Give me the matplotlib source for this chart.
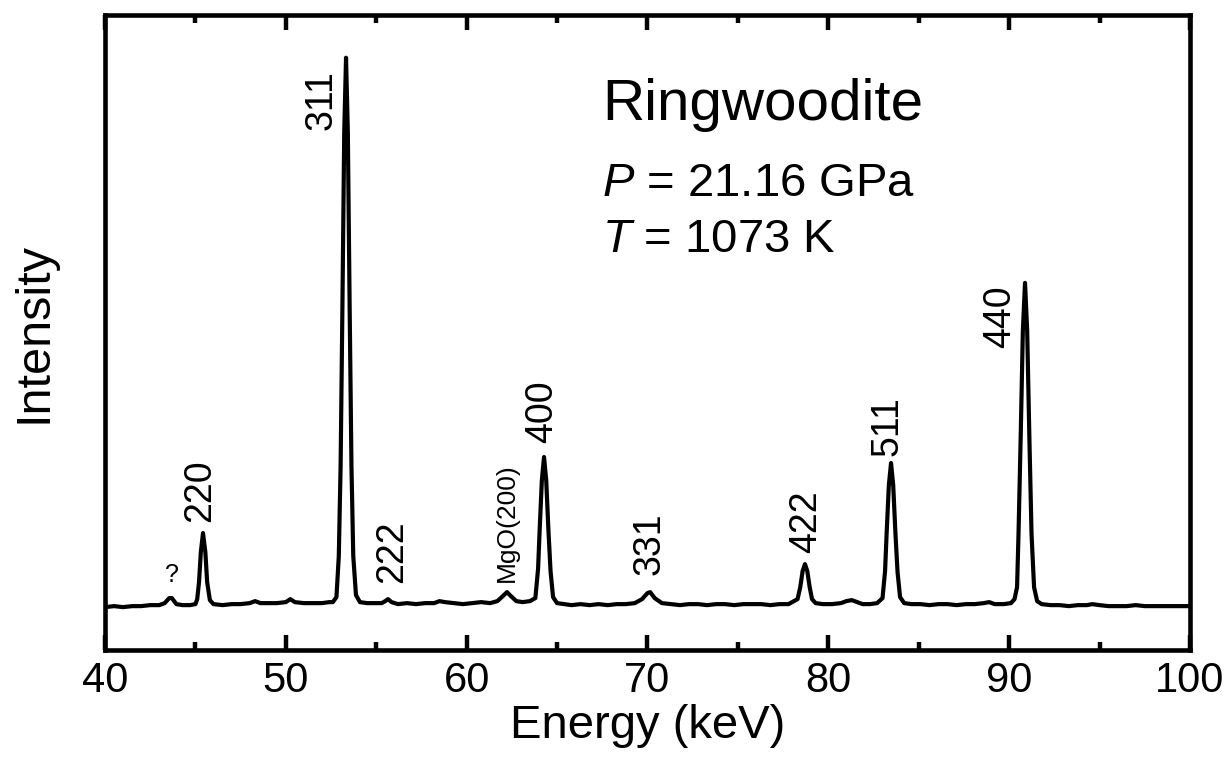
import matplotlib
matplotlib.use('Agg')
import matplotlib.pyplot as plt
from matplotlib.ticker import MultipleLocator

plt.rcParams['font.family'] = ['Liberation Sans', 'DejaVu Sans']
plt.rcParams['mathtext.fontset'] = 'custom'
plt.rcParams['mathtext.rm'] = 'Liberation Sans'
plt.rcParams['mathtext.it'] = 'Liberation Sans:italic'

# spectrum (energy in keV, intensity in arbitrary units)
energy = [40.0, 40.5, 41.0, 41.5, 42.0, 42.5, 43.0,
          43.3, 43.55, 43.7, 43.95, 44.3, 44.7, 45.0,
          45.1, 45.2, 45.3, 45.42, 45.55, 45.65, 45.8, 46.0,
          46.5, 47.0, 47.5, 48.0, 48.3, 48.6, 49.0, 49.5, 50.0, 50.25, 50.5,
          51.0, 51.5, 52.0, 52.4, 52.6, 52.8,
          52.93, 53.03, 53.13, 53.23, 53.33, 53.43, 53.53, 53.63, 53.73, 53.88, 54.1,
          54.5, 55.0, 55.3, 55.5, 55.65, 55.85, 56.2, 56.7, 57.2, 57.7, 58.2,
          58.5, 58.8, 59.3, 59.8, 60.3, 60.8, 61.3, 61.7, 62.0, 62.23, 62.45,
          62.75, 63.1, 63.5, 63.8,
          63.95, 64.04, 64.16, 64.28, 64.40, 64.52, 64.64, 64.78, 65.0, 65.4,
          65.8, 66.3, 66.8, 67.3, 67.8, 68.3, 68.8, 69.3, 69.7, 70.0, 70.15,
          70.4, 70.8, 71.3, 71.8, 72.3, 72.8, 73.3, 73.8, 74.3, 74.8, 75.3,
          75.8, 76.3, 76.8, 77.3, 77.8, 78.1,
          78.3, 78.45, 78.58, 78.71, 78.84, 78.97, 79.1, 79.3,
          79.7, 80.2, 80.7, 81.0, 81.3, 81.6, 81.9, 82.3, 82.7, 83.0,
          83.14, 83.23, 83.35, 83.47, 83.59, 83.71, 83.83, 83.97, 84.2,
          84.6, 85.1, 85.6, 86.1, 86.6, 87.1, 87.6, 88.1, 88.6, 88.9, 89.2,
          89.7, 90.1, 90.3,
          90.44, 90.52, 90.64, 90.76, 90.88, 91.0, 91.12, 91.24, 91.38, 91.55, 91.8,
          92.3, 92.8, 93.3, 93.8, 94.3, 94.6, 95.0, 95.5, 96.0, 96.5, 97.0,
          97.5, 98.0, 98.5, 99.0, 99.5, 100.0]
intensity = [0, 1, 0, 1, 1, 2, 2,
             4, 9, 9, 3, 2, 2, 3,
             8, 25, 55, 74, 55, 25, 7, 3,
             2, 3, 3, 4, 6, 4, 4, 4, 5, 8, 5,
             4, 4, 4, 5, 5, 10,
             51, 141, 300, 474, 549, 474, 300, 141, 51, 12, 5,
             4, 4, 4, 6, 8, 5, 3, 4, 3, 4, 4,
             6, 5, 4, 3, 4, 5, 4, 6, 11, 15, 11,
             6, 5, 6, 9,
             38, 78, 127, 150, 127, 78, 36, 10, 4, 3,
             2, 3, 2, 3, 2, 3, 3, 4, 8, 14, 15,
             9, 4, 3, 2, 3, 3, 2, 3, 3, 2, 3,
             3, 3, 2, 3, 3, 6,
             8, 20, 36, 43, 36, 20, 8, 4,
             3, 3, 4, 6, 7, 5, 3, 3, 4, 9,
             36, 75, 122, 144, 122, 75, 35, 10, 4,
             3, 3, 2, 3, 3, 2, 3, 3, 4, 5, 3,
             3, 4, 8,
             20, 73, 170, 276, 324, 276, 170, 73, 20, 6, 3,
             2, 2, 1, 2, 2, 3, 2, 1, 1, 1, 2,
             1, 1, 1, 1, 1, 1]

# peak labels
labels = ['?', '220', '311', '222', 'MgO(200)', '400', '331', '422', '511', '440']
label_e = [43.7, 45.25, 52.0, 55.87, 62.23, 64.17, 70.14, 78.77, 83.25, 89.5]
label_i = [20, 85, 477, 24, 25, 164, 32, 54, 151, 259]
label_size = [18, 27, 27, 27, 19, 27, 27, 27, 27, 27]

fig = plt.figure(figsize=(12.28, 7.74), dpi=100)
ax = fig.add_axes([0.0855, 0.160, 0.8835, 0.821])

ax.plot(energy, intensity, color='black', lw=3.0)

for lab, e, i, s in zip(labels, label_e, label_i, label_size):
    rot = 0 if lab == '?' else 90
    ax.text(e, i, lab, rotation=rot, ha='center', va='bottom', fontsize=s)

ax.text(67.49, 487, 'Ringwoodite', fontsize=42, va='baseline')
ax.text(67.49, 411, '$P$ = 21.16 GPa', fontsize=34, va='baseline')
ax.text(67.49, 355, '$T$ = 1073 K', fontsize=34, va='baseline')

ax.set_xlim(40, 100)
ax.set_ylim(-43, 592)
ax.xaxis.set_major_locator(MultipleLocator(10))
ax.xaxis.set_minor_locator(MultipleLocator(5))
ax.tick_params(axis='x', which='both', direction='in', top=True, bottom=True,
               width=3.2, labelsize=30, pad=8)
ax.tick_params(axis='x', which='major', length=11)
ax.tick_params(axis='x', which='minor', length=6)
ax.set_yticks([])
for sp in ax.spines.values():
    sp.set_linewidth(3.3)

ax.set_xlabel('Energy (keV)', fontsize=34, labelpad=2)
ax.set_ylabel('Intensity', fontsize=35, labelpad=35)

fig.savefig('out.png', dpi=100)
